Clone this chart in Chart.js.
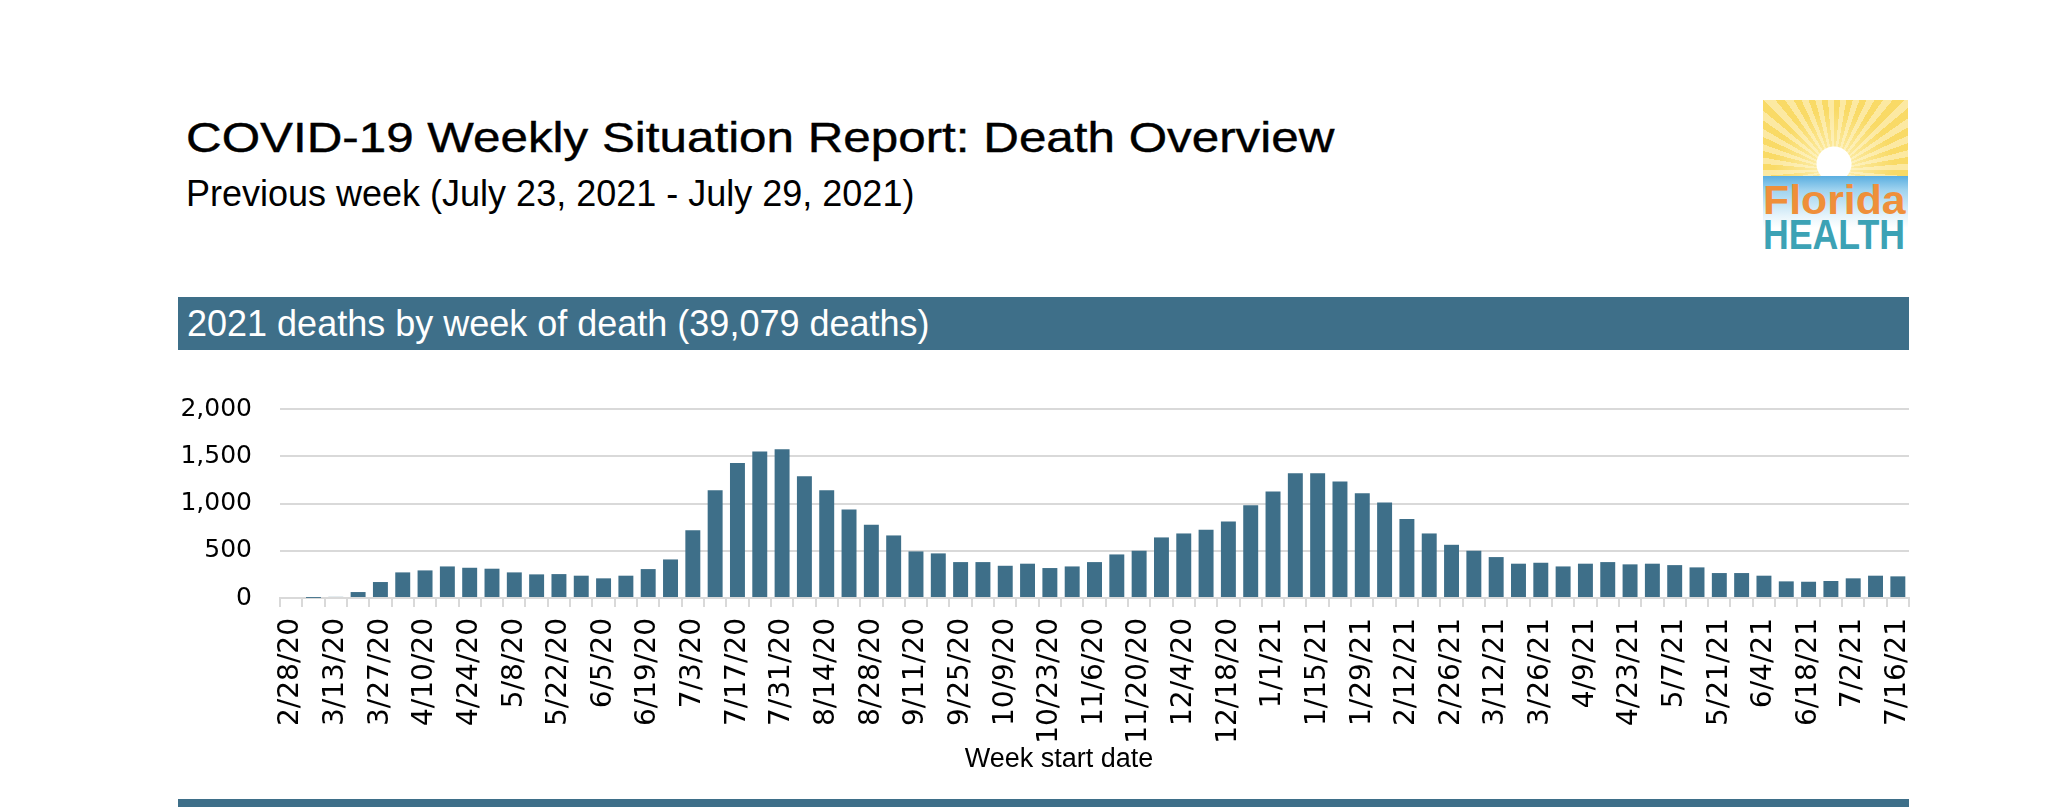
<!DOCTYPE html>
<html>
<head>
<meta charset="utf-8">
<title>COVID-19 Weekly Situation Report: Death Overview</title>
<script src="https://cdn.jsdelivr.net/npm/chart.js@4.4.0/dist/chart.umd.min.js"></script>
<style>
    html, body { margin: 0; padding: 0; background: #fff; }
    body { width: 2047px; height: 807px; position: relative; overflow: hidden; font-family: "Liberation Sans", Arial, sans-serif; }
    .title { position: absolute; left: 186px; top: 117px; font-size: 42px; line-height: 42px; color: #000; white-space: nowrap; transform: scaleX(1.175); transform-origin: left top; -webkit-text-stroke: 0.4px #000; }
    .subtitle { position: absolute; left: 186px; top: 176px; font-size: 36px; line-height: 36px; color: #000; white-space: nowrap; }
    .banner { position: absolute; left: 178px; width: 1731px; background: #3e6f89; color: #fff; }
    .banner.top { top: 297px; height: 53px; }
    .banner.top span { position: absolute; left: 9px; top: 9px; font-size: 36px; line-height: 36px; white-space: nowrap; }
    .banner.bottom { top: 799px; height: 20px; }
    .chart-box { position: absolute; left: 150px; top: 390px; width: 1780px; height: 400px; }
    .axis-title { position: absolute; left: 859px; width: 400px; top: 745px; text-align: center; font-size: 27px; line-height: 27px; color: #000; }
    .logo { position: absolute; left: 1763px; top: 100px; width: 145px; height: 151px; overflow: hidden;
            background: linear-gradient(#5aaee0 0px, #9fd3ef 14px, #e6f4fb 40px, #fff 52px) 0 76px / 145px 75px no-repeat; }
    .sun { position: absolute; left: 0; top: 0; width: 145px; height: 76px;
           background:
             radial-gradient(circle at 71px 64px, #fff 0 17px, rgba(255,255,255,0) 18px),
             radial-gradient(circle at 71px 70px, rgba(255,248,210,0.8) 0, rgba(255,248,210,0) 60px),
             repeating-conic-gradient(from 0deg at 71px 70px, #f9da66 0deg 5deg, #fce9a2 5deg 10deg); }
    .logo .fl { position: absolute; left: 0; top: 80px; font-size: 40px; line-height: 40px; font-weight: bold; color: #ef8f3a; white-space: nowrap; transform: scaleX(1.07); transform-origin: left top; }
    .logo .hl { position: absolute; left: 0; top: 114px; font-size: 42px; line-height: 42px; font-weight: bold; color: #3ca2b5; white-space: nowrap; transform: scaleX(0.85); transform-origin: left top; }
</style>
</head>
<body>
<div class="title">COVID-19 Weekly Situation Report: Death Overview</div>
<div class="subtitle">Previous week (July 23, 2021 - July 29, 2021)</div>

<div class="logo">
    <div class="sun"></div>
    <div class="fl">Florida</div>
    <div class="hl">HEALTH</div>
</div>

<div class="banner top"><span>2021 deaths by week of death (39,079 deaths)</span></div>

<div class="chart-box"><canvas id="deathChart"></canvas></div>
<div class="axis-title">Week start date</div>

<div class="banner bottom"></div>

<script>
// week start dates, one bar per week
const weeks = [
    '2/28/20', '3/6/20', '3/13/20', '3/20/20', '3/27/20', '4/3/20', '4/10/20', '4/17/20',
    '4/24/20', '5/1/20', '5/8/20', '5/15/20', '5/22/20', '5/29/20', '6/5/20', '6/12/20',
    '6/19/20', '6/26/20', '7/3/20', '7/10/20', '7/17/20', '7/24/20', '7/31/20', '8/7/20',
    '8/14/20', '8/21/20', '8/28/20', '9/4/20', '9/11/20', '9/18/20', '9/25/20', '10/2/20',
    '10/9/20', '10/16/20', '10/23/20', '10/30/20', '11/6/20', '11/13/20', '11/20/20', '11/27/20',
    '12/4/20', '12/11/20', '12/18/20', '12/25/20', '1/1/21', '1/8/21', '1/15/21', '1/22/21',
    '1/29/21', '2/5/21', '2/12/21', '2/19/21', '2/26/21', '3/5/21', '3/12/21', '3/19/21',
    '3/26/21', '4/2/21', '4/9/21', '4/16/21', '4/23/21', '4/30/21', '5/7/21', '5/14/21',
    '5/21/21', '5/28/21', '6/4/21', '6/11/21', '6/18/21', '6/25/21', '7/2/21', '7/9/21',
    '7/16/21'
];

// deaths per week
const deaths = [
    0, 1, 12, 63, 169, 271, 292, 334,
    320, 310, 271, 250, 253, 236, 208, 236,
    306, 408, 718, 1140, 1429, 1549, 1573, 1288,
    1140, 936, 774, 662, 493, 472, 380, 380,
    341, 363, 317, 334, 380, 461, 500, 641,
    683, 722, 810, 982, 1126, 1320, 1320, 1232,
    1109, 1010, 836, 683, 563, 500, 433, 363,
    373, 334, 363, 380, 356, 363, 348, 324,
    264, 264, 236, 176, 172, 180, 208, 236,
    229
];

const yTicks = [0, 500, 1000, 1500, 2000];

const barColor = '#3e6f89';
const lineGrey = '#d9d9d9';

function initDeathChart() {
    const canvas = document.getElementById('deathChart');
    if (!canvas) {
        console.error("Death chart canvas not found!");
        return;
    }
    const ctx = canvas.getContext('2d');
    new Chart(ctx, {
        type: 'bar',
        data: {
            labels: weeks,
            datasets: [{
                label: 'Deaths',
                data: deaths,
                backgroundColor: barColor,
                barPercentage: 0.67,
                categoryPercentage: 1.0
            }]
        },
        options: {
            responsive: true,
            maintainAspectRatio: false,
            animation: false,
            layout: { padding: { left: 0, right: 21, top: 19, bottom: 0 } },
            plugins: {
                legend: { display: false },
                tooltip: { enabled: false }
            },
            scales: {
                x: {
                    afterFit: (scale) => {
                        scale.height = 192;
                        scale.paddingLeft = 0;
                        scale.paddingRight = 0;
                    },
                    grid: {
                        drawOnChartArea: false,
                        drawTicks: true,
                        tickLength: 9,
                        color: lineGrey,
                        lineWidth: 2
                    },
                    border: { display: true, color: lineGrey, width: 2 },
                    ticks: {
                        autoSkip: false,
                        minRotation: 90,
                        maxRotation: 90,
                        padding: 11,
                        color: '#000',
                        font: { family: 'DejaVu Sans', size: 28 },
                        callback: function (value, index) {
                            return index % 2 === 0 ? weeks[index] : '';
                        }
                    }
                },
                y: {
                    min: yTicks[0],
                    max: yTicks[yTicks.length - 1],
                    afterFit: (scale) => {
                        scale.width = 130;
                        scale.paddingTop = 0;
                        scale.paddingBottom = 0;
                    },
                    afterBuildTicks: (scale) => { scale.ticks = yTicks.map(v => ({ value: v })); },
                    grid: { color: lineGrey, lineWidth: 2, drawTicks: false },
                    border: { display: false },
                    ticks: {
                        padding: 28,
                        color: '#000',
                        font: { family: 'DejaVu Sans', size: 25 },
                        callback: (value) => value.toLocaleString('en-US')
                    }
                }
            }
        }
    });
}

initDeathChart();
</script>
</body>
</html>
